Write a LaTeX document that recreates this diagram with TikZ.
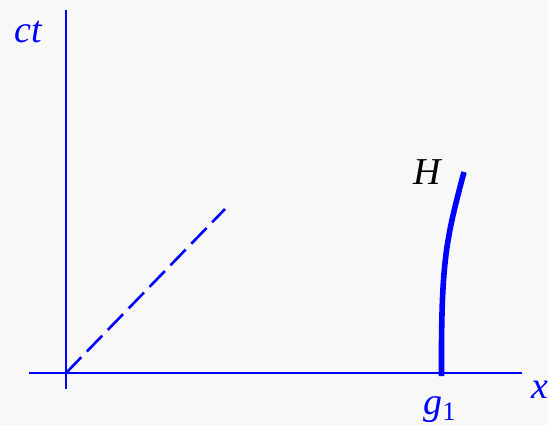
\documentclass[tikz,border=0pt]{standalone}
\usepackage{fontspec}
\setmainfont{Liberation Serif}
\usepackage{tikz}
\usetikzlibrary{positioning}
\definecolor{bgray}{HTML}{F8F8F8}
\definecolor{axblue}{HTML}{0000FF}

\begin{document}
\begin{tikzpicture}[
  x=0.5pt, y=-0.5pt,
  axis/.style={draw=axblue, line width=1.3pt},
  lbl/.style={font=\fontsize{19}{22}\selectfont\itshape, inner sep=0pt},
]
% Fond
\fill[bgray] (0,0) rectangle (548,425);
\useasboundingbox (0,0) rectangle (548,425);

% Axes
\coordinate (O) at (66,373);
\coordinate (xl) at (29,373);
\coordinate (xr) at (522,373);
\coordinate (yt) at (66,10);
\coordinate (yb) at (66,389);
\draw[axis] (xl) -- (xr);
\draw[axis] (yb) -- (yt);
\node[lbl, text=axblue] (ct) at (28,32) {ct};
\node[lbl, text=axblue, anchor=west] (xlab) at (531,390) {x};

% Cone de lumiere
\coordinate (L) at (225,209);
\draw[axis, dash pattern=on 11pt off 4pt] (O) -- (L);

% Ligne d'univers
\coordinate (g) at (441.5,376);
\coordinate (Htop) at (464,172);
\draw[draw=axblue, line width=2.8pt] (g) .. controls (441,260) and (446,240) .. (Htop);
\node[lbl] (H) at (427,172) {H};
\node[lbl, text=axblue] (g1) at (440,410) {g\textsubscript{\upshape 1}};
\end{tikzpicture}
\end{document}
